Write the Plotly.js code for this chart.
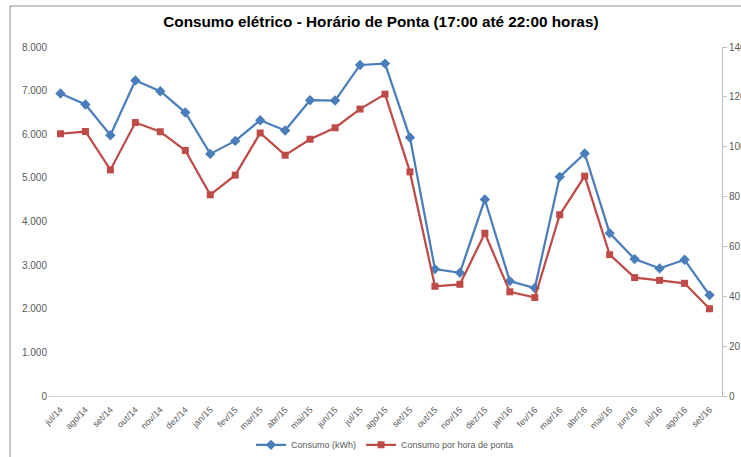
<!DOCTYPE html>
<html>
<head>
<meta charset="utf-8">
<script src="https://cdn.plot.ly/plotly-3.0.1.min.js"></script>
<style>html,body{margin:0;padding:0;background:#fff;}#chart{width:741px;height:457px;}</style>
</head>
<body>
<div id="chart"></div>
<script>
const categories = ["jul/14","ago/14","set/14","out/14","nov/14","dez/14","jan/15","fev/15","mar/15","abr/15","mai/15","jun/15","jul/15","ago/15","set/15","out/15","nov/15","dez/15","jan/16","fev/16","mar/16","abr/16","mai/16","jun/16","jul/16","ago/16","set/16"];
const consumoKWh = [6933,6681,5978,7231,6986,6498,5550,5848,6322,6086,6780,6773,7588,7620,5925,2909,2824,4505,2634,2474,5023,5559,3733,3138,2925,3122,2313];
const consumoPorHora = [105.2,106.1,90.7,109.7,106.0,98.5,80.7,88.6,105.5,96.6,103.0,107.6,115.1,121.1,89.9,44.0,44.8,65.3,41.8,39.5,72.7,88.2,56.7,47.5,46.4,45.2,35.0];
const leftTicks = [0,1000,2000,3000,4000,5000,6000,7000,8000];
const rightTicks = [0,20,40,60,80,100,120,140];

const font = "Liberation Sans, Arial, sans-serif";
const traces = [
  {x: categories, y: consumoKWh, name: "Consumo (kWh)", type: "scatter", mode: "lines+markers",
   line: {color: "#4a7ebb", width: 2.25}, marker: {symbol: "diamond", size: 8, color: "#4a7ebb"}, yaxis: "y"},
  {x: categories, y: consumoPorHora, name: "Consumo por hora de ponta", type: "scatter", mode: "lines+markers",
   line: {color: "#be4b48", width: 2.25}, marker: {symbol: "square", size: 7, color: "#be4b48"}, yaxis: "y2"}
];
const layout = {
  width: 741, height: 457,
  margin: {l: 48, r: 19, t: 47, b: 61, autoexpand: false},
  paper_bgcolor: "#fff", plot_bgcolor: "#fff",
  separators: ",.",
  showlegend: true,
  font: {family: font, size: 10, color: "#595959"},
  title: {text: "<b>Consumo elétrico - Horário de Ponta (17:00 até 22:00 horas)</b>",
          font: {family: font, size: 15.3, color: "#000"}, x: 0.514, xanchor: "center", y: 0.952, yanchor: "middle"},
  xaxis: {type: "category", range: [-0.5, 26.5], tickangle: -45, showgrid: false, zeroline: false, automargin: false,
          showline: true, linecolor: "#d9d9d9", linewidth: 1, ticks: "outside", ticklen: 4, tickcolor: "rgba(0,0,0,0)",
          tickfont: {size: 9, color: "#595959"}},
  yaxis: {range: [0, 8000], tickvals: leftTicks, tickformat: ",.0f", showgrid: false, zeroline: false, automargin: false,
          showline: false, ticks: "", tickfont: {size: 10, color: "#595959"}},
  yaxis2: {range: [0, 140], tickvals: rightTicks, overlaying: "y", side: "right", showgrid: false, zeroline: false, automargin: false,
           showline: true, linecolor: "#bfbfbf", linewidth: 1, ticks: "outside", ticklen: 4, tickcolor: "#bfbfbf",
           tickfont: {size: 10, color: "#595959"}},
  legend: {orientation: "h", x: 0.5, xanchor: "center", y: -0.14, yanchor: "middle", font: {size: 9, color: "#595959"}},
  shapes: [
    {type: "line", xref: "paper", yref: "paper", x0: -0.0564, x1: -0.0564, y0: 1.1175, y1: -0.2, line: {color: "#8c8c8c", width: 1}},
    {type: "line", xref: "paper", yref: "paper", x0: -0.0564, x1: 1.05, y0: 1.1175, y1: 1.1175, line: {color: "#8c8c8c", width: 1}}
  ]
};
Plotly.newPlot("chart", traces, layout, {displayModeBar: false, staticPlot: true});
</script>
</body>
</html>
